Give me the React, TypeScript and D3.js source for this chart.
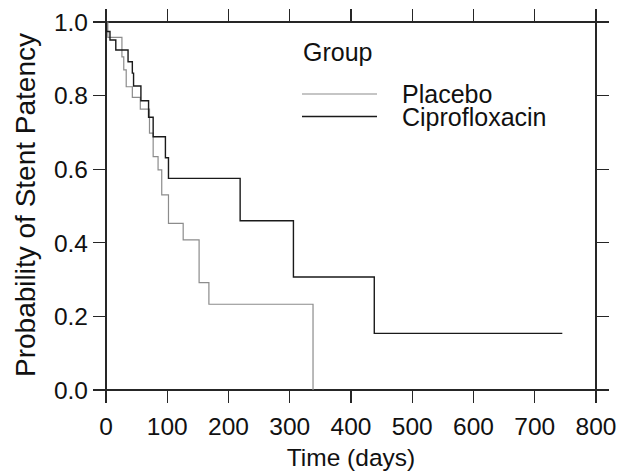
import React from "react";
import * as d3 from "d3";

const W = 618;
const H = 471;

// Axis ticks
const xTicks = [0, 100, 200, 300, 400, 500, 600, 700, 800];
const yTicks = [0, 0.2, 0.4, 0.6, 0.8, 1.0];

// Kaplan–Meier steps: time (days) and survival probability after the step
const placeboTimes = [0, 3, 26, 29, 33, 43, 56, 71, 77, 85, 91, 102, 126, 152, 168, 338];
const placeboSurv = [1.0, 0.958, 0.905, 0.87, 0.824, 0.795, 0.763, 0.698, 0.634, 0.598, 0.53, 0.453, 0.408, 0.292, 0.233, 0.0];

const ciproTimes = [0, 1, 6.5, 16, 36, 43, 45, 57, 69.5, 77, 97, 102, 219, 306, 438, 745];
const ciproSurv = [1.0, 0.974, 0.951, 0.924, 0.892, 0.861, 0.826, 0.786, 0.741, 0.688, 0.631, 0.575, 0.46, 0.307, 0.154, 0.154];

const groups = ["Placebo", "Ciprofloxacin"];

const FONT = "'Liberation Sans', Arial, Helvetica, sans-serif";

export default function App() {
  const x = d3.scaleLinear().domain([0, 800]).range([106, 596]);
  const y = d3.scaleLinear().domain([0, 1]).range([390, 22]);
  const tick = 13;

  const line = d3
    .line<[number, number]>()
    .x((d) => x(d[0]))
    .y((d) => y(d[1]))
    .curve(d3.curveStepAfter);

  const placeboPts = placeboTimes.map((t, i) => [t, placeboSurv[i]] as [number, number]);
  const ciproPts = ciproTimes.map((t, i) => [t, ciproSurv[i]] as [number, number]);

  const axisColor = "#262626";
  const [x0, x1] = x.range();
  const [y0, y1] = y.range();
  const placeboColor = "#8c8c8c";
  const ciproColor = "#1a1a1a";

  return (
    <svg
      width={W}
      height={H}
      viewBox={`0 0 ${W} ${H}`}
      style={{ position: "absolute", left: 0, top: 0, background: "#fff", display: "block" }}
    >
      <rect x={0} y={0} width={W} height={H} fill="#fff" />
      {/* frame with outward ticks on all four sides */}
      <g stroke={axisColor} strokeWidth={1.2} fill="none" shapeRendering="crispEdges">
        <line x1={x0} x2={x1} y1={y0} y2={y0} />
        <line x1={x0} x2={x1} y1={y1} y2={y1} />
        <line x1={x0} x2={x0} y1={y0} y2={y1} />
        <line x1={x1} x2={x1} y1={y0} y2={y1} />
        {xTicks.map((t) => (
          <g key={"xt" + t}>
            <line x1={x(t)} x2={x(t)} y1={y0} y2={y0 + tick} />
            <line x1={x(t)} x2={x(t)} y1={y1} y2={y1 - tick} />
          </g>
        ))}
        {yTicks.map((t) => (
          <g key={"yt" + t}>
            <line x1={x0} x2={x0 - tick} y1={y(t)} y2={y(t)} />
            <line x1={x1} x2={x1 + tick} y1={y(t)} y2={y(t)} />
          </g>
        ))}
      </g>

      {/* tick labels and axis titles */}
      <g fontFamily={FONT} fontSize={24.5} fill="#111">
        {xTicks.map((t) => (
          <text key={"xl" + t} x={x(t)} y={435} textAnchor="middle">
            {t}
          </text>
        ))}
        {yTicks.map((t) => (
          <text key={"yl" + t} x={88} y={y(t)} dy="0.36em" textAnchor="end">
            {t.toFixed(1)}
          </text>
        ))}
        <text x={(x0 + x1) / 2} y={466} textAnchor="middle">
          Time (days)
        </text>
      </g>
      <text
        fontFamily={FONT}
        fontSize={28}
        fill="#111"
        transform={`translate(35, 205) rotate(-90)`}
        textAnchor="middle"
      >
        Probability of Stent Patency
      </text>

      {/* survival curves */}
      <path d={line(placeboPts) ?? ""} fill="none" stroke={placeboColor} strokeWidth={1.2} />
      <path d={line(ciproPts) ?? ""} fill="none" stroke={ciproColor} strokeWidth={1.4} />

      {/* legend */}
      <g fontFamily={FONT} fontSize={25} fill="#111">
        <text x={303} y={51.7} dy="0.36em">
          Group
        </text>
        {groups.map((g, i) => (
          <g key={g}>
            <line
              x1={302}
              x2={377}
              y1={94 + i * 22.5}
              y2={94 + i * 22.5}
              stroke={i === 0 ? placeboColor : ciproColor}
              strokeWidth={i === 0 ? 1.2 : 1.4}
            />
            <text x={402} y={94 + i * 22.5} dy="0.36em">
              {g}
            </text>
          </g>
        ))}
      </g>
    </svg>
  );
}
